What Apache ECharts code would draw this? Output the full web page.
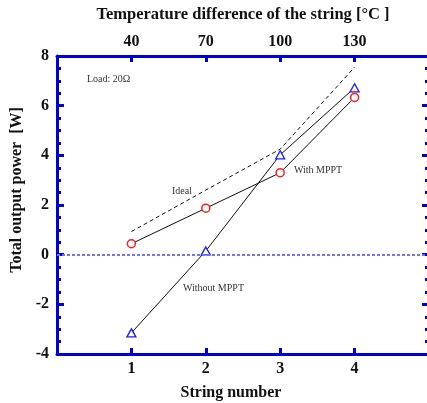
<!DOCTYPE html>
<html>
<head>
<meta charset="utf-8">
<script src="https://cdn.jsdelivr.net/npm/echarts@6/dist/echarts.min.js"></script>
<style>
html,body{margin:0;padding:0;background:#fff;}
#c{width:427px;height:403px;}
</style>
</head>
<body>
<div id="c"></div>
<script>
// ---- data ----
var stringNumbers = [1, 2, 3, 4];
var tempLabels = ['40', '70', '100', '130'];
var idealPower = [0.93, 2.6, 4.25, 7.55];
var withMPPT = [0.44, 1.87, 3.3, 6.33];
var withoutMPPT = [-3.15, 0.15, 4.02, 6.72];
var yTicks = [-4, -2, 0, 2, 4, 6, 8];

function pairs(xs, ys) { return xs.map(function (x, i) { return [x, ys[i]]; }); }

var AX = '#0000d8';
var FONT = '"Liberation Serif", "Times New Roman", serif';

var chart = echarts.init(document.getElementById('c'), null, {renderer: 'canvas'});

var tickFmtX = function (v) {
  var i = stringNumbers.indexOf(v);
  return i >= 0 ? String(stringNumbers[i]) : '';
};
var tickFmtTop = function (v) {
  var i = stringNumbers.indexOf(v);
  return i >= 0 ? tempLabels[i] : '';
};

chart.setOption({
  animation: false,
  backgroundColor: '#fff',
  grid: {left: 57, top: 56, width: 372, height: 298, containLabel: false, outerBoundsMode: 'none'},
  xAxis: [{
    type: 'value', position: 'bottom', min: 0, max: 5, interval: 1,
    name: 'String number', nameLocation: 'middle', nameGap: 31,
    nameTextStyle: {fontFamily: FONT, fontWeight: 'bold', fontSize: 16, color: '#111', padding: [0, 24, 0, 0]},
    axisLine: {show: true, onZero: false, lineStyle: {color: AX, width: 3}},
    axisTick: {show: true, inside: true, length: 6, lineStyle: {color: AX, width: 3}},
    axisLabel: {formatter: tickFmtX, fontFamily: FONT, fontWeight: 'bold', fontSize: 16, color: '#111', margin: 7},
    splitLine: {show: false}
  }, {
    type: 'value', position: 'top', min: 0, max: 5, interval: 1,
    name: 'Temperature difference of the string [°C ]', nameLocation: 'middle', nameGap: 33,
    nameTextStyle: {fontFamily: FONT, fontWeight: 'bold', fontSize: 16.5, color: '#111'},
    axisLine: {show: true, onZero: false, lineStyle: {color: AX, width: 3}},
    axisTick: {show: true, inside: true, length: 6, lineStyle: {color: AX, width: 3}},
    axisLabel: {formatter: tickFmtTop, fontFamily: FONT, fontWeight: 'bold', fontSize: 16, color: '#111', margin: 6},
    splitLine: {show: false}
  }],
  yAxis: [{
    type: 'value', position: 'left', min: yTicks[0], max: yTicks[yTicks.length - 1], interval: 2,
    name: 'Total output power  [W]', nameLocation: 'middle', nameGap: 29,
    nameTextStyle: {fontFamily: FONT, fontWeight: 'bold', fontSize: 16, color: '#111', padding: [0, 0, 0, 30]},
    axisLine: {show: true, onZero: false, lineStyle: {color: AX, width: 3}},
    axisTick: {show: true, inside: true, length: 7, lineStyle: {color: AX, width: 3}},
    minorTick: {show: true, splitNumber: 4, length: 4, lineStyle: {color: AX, width: 3}},
    axisLabel: {fontFamily: FONT, fontWeight: 'bold', fontSize: 16, color: '#111', margin: 8},
    splitLine: {show: false}
  }, {
    type: 'value', position: 'right', min: yTicks[0], max: yTicks[yTicks.length - 1], interval: 2,
    axisLine: {show: true, onZero: false, lineStyle: {color: AX, width: 3}},
    axisTick: {show: true, inside: true, length: 7, lineStyle: {color: AX, width: 3}},
    minorTick: {show: true, splitNumber: 4, length: 4, lineStyle: {color: AX, width: 3}},
    axisLabel: {show: false},
    splitLine: {show: false}
  }],
  series: [{
    name: 'Ideal', type: 'line', data: pairs(stringNumbers, idealPower),
    showSymbol: false, symbol: 'none',
    lineStyle: {color: '#111', width: 1, type: [4, 3]},
    markLine: {
      silent: true, symbol: ['none', 'none'], label: {show: false},
      lineStyle: {color: '#7272ff', width: 2, type: [3, 2]},
      data: [{yAxis: 0}]
    },
    z: 2
  }, {
    name: 'Without MPPT', type: 'line', data: pairs(stringNumbers, withoutMPPT),
    symbol: 'triangle', symbolSize: [9, 8],
    lineStyle: {color: '#111', width: 1},
    itemStyle: {color: '#fff', borderColor: '#1a1aff', borderWidth: 1.3},
    z: 3
  }, {
    name: 'With MPPT', type: 'line', data: pairs(stringNumbers, withMPPT),
    symbol: 'circle', symbolSize: 8,
    lineStyle: {color: '#111', width: 1},
    itemStyle: {color: '#fff', borderColor: '#ff1a1a', borderWidth: 1.5},
    z: 4
  }],
  graphic: [
    {type: 'text', left: 87, top: 74, style: {text: 'Load: 20Ω', font: '10px ' + FONT, fill: '#333'}},
    {type: 'text', left: 172, top: 186, style: {text: 'Ideal', font: '10px ' + FONT, fill: '#333'}},
    {type: 'text', left: 294, top: 165, style: {text: 'With MPPT', font: '10px ' + FONT, fill: '#333'}},
    {type: 'text', left: 183, top: 283, style: {text: 'Without MPPT', font: '10px ' + FONT, fill: '#333'}}
  ]
});
</script>
</body>
</html>
